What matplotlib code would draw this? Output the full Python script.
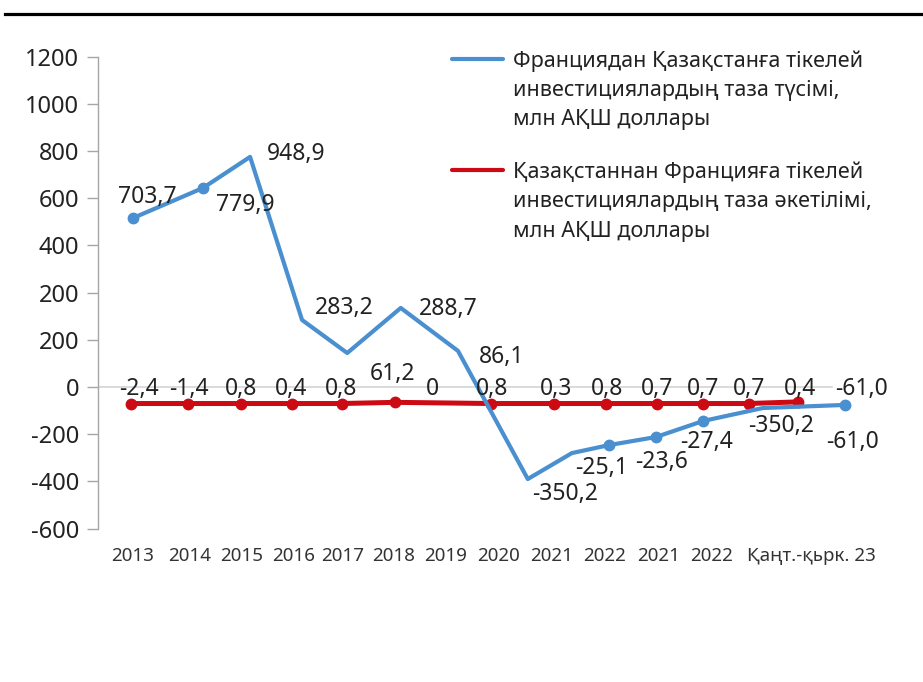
import matplotlib.pyplot as plt
from matplotlib.lines import Line2D
from matplotlib.transforms import offset_copy

plt.rcParams['font.family'] = ['Noto Sans', 'DejaVu Sans']

# categories along the x axis (positions in category units)
x_labels = ['2013', '2014', '2015', '2016', '2017', '2018', '2019', '2020',
            '2021', '2022', '2021', '2022', 'Қаңт.-қьрк. 23']
x_ticks = [0, 1.07, 2.06, 3.05, 4.0, 4.97, 5.96, 6.97, 7.98, 8.99, 10.02, 11.03, 12.93]

# y axis labels as printed (the picture repeats "200")
y_ticks = [-600, -400, -200, 0, 200, 400, 600, 800, 1000, 1200, 1400]
y_tick_labels = ['-600', '-400', '-200', '0', '200', '200', '400', '600', '800', '1000', '1200']

# inflow, France -> Kazakhstan (blue)
inflow_x = [0, 1.33, 2.23, 3.22, 4.08, 5.10, 6.19, 7.52, 8.36, 9.07, 9.96, 10.86, 12.0, 13.56]
inflow_y = [716, 843, 975, 284, 144, 335, 153, -390, -280, -246, -212, -144, -89, -76]
inflow_markers = [0, 1, 9, 10, 11, 13]

# outflow, Kazakhstan -> France (red)
outflow_x = [-0.04, 1.05, 2.06, 3.03, 3.98, 4.99, 6.82, 8.02, 9.01, 9.98, 10.86, 11.73, 12.67]
outflow_y = [-70, -70, -70, -70, -70, -65, -70, -70, -70, -70, -70, -70, -63]

# data labels as printed on the chart
inflow_labels = ['703,7', '779,9', '948,9', '283,2', '288,7', '86,1', '-350,2',
                 '-25,1', '-23,6', '-27,4', '-350,2', '-61,0', '-61,0']
outflow_labels = ['-2,4', '-1,4', '0,8', '0,4', '0,8', '61,2', '0', '0,8',
                  '0,3', '0,8', '0,7', '0,7', '0,7', '0,4']

legend_inflow = ['Франциядан Қазақстанға тікелей',
                 'инвестициялардың таза түсімі,',
                 'млн АҚШ доллары']
legend_outflow = ['Қазақстаннан Францияға тікелей',
                  'инвестициялардың таза әкетілімі,',
                  'млн АҚШ доллары']

# where the labels sit (text centres, data units)
inflow_label_pos = [(0.27, 813), (2.13, 780), (3.10, 996), (4.02, 343), (6.0, 339),
                    (7.03, 136), (8.23, -445), (8.93, -335), (10.06, -309),
                    (10.93, -225), (12.34, -157), (13.71, -225), (13.87, 0)]
outflow_label_pos = [(0.11, 0), (1.07, 0), (2.06, 0), (3.01, 0), (3.96, 0), (4.95, 64),
                     (5.71, 0), (6.84, 0), (8.06, 0), (9.03, 0), (9.98, 0),
                     (10.86, 0), (11.73, 0), (12.70, 0)]

BLUE = '#4a8fcf'
RED = '#cc0a14'
TEXT = '#222222'
W, H = 923, 682

fig = plt.figure(figsize=(W / 100, H / 100), dpi=100, facecolor='white')
ax = fig.add_axes([98 / W, (H - 528.6) / H, 802 / W, (528.6 - 56.6) / H])
ax.set_xlim(-0.667, 14.61)
ax.set_ylim(-600, 1400)
ax.patch.set_alpha(0)

ax.axhline(0, xmin=0, xmax=(832 - 98) / 802, color='#d4d4d4', lw=1.2, zorder=1)

ax.plot(outflow_x, outflow_y, color=RED, lw=3.6, marker='o', ms=7.5,
        solid_capstyle='round', zorder=3, clip_on=False)
ax.plot(inflow_x, inflow_y, color=BLUE, lw=3.0, marker='o', ms=7.5,
        markevery=inflow_markers, solid_capstyle='round', zorder=4, clip_on=False)

lab_tr = offset_copy(ax.transData, fig=fig, y=-5.8, units='points')
for txt, (lx, ly) in zip(inflow_labels + outflow_labels, inflow_label_pos + outflow_label_pos):
    ax.text(lx, ly, txt, transform=lab_tr, ha='center', va='baseline',
            fontsize=16.5, color=TEXT, zorder=5, clip_on=False)

for s in ['top', 'right', 'bottom']:
    ax.spines[s].set_visible(False)
ax.spines['left'].set_color('#a6a6a6')
ax.spines['left'].set_linewidth(1.0)

ax.set_yticks(y_ticks)
ax.set_yticklabels(y_tick_labels, fontsize=17, color=TEXT)
ax.tick_params(axis='y', length=8, width=1.0, color='#a6a6a6', pad=5.5)

ax.set_xticks(x_ticks)
ax.set_xticklabels(x_labels, fontsize=13.5, color='#333333')
ax.tick_params(axis='x', length=0, pad=13.5)

# legend drawn by hand: handle beside the first line of each entry
def px(x, y):
    return x / W, 1 - y / H

for color, lines, y0 in [(BLUE, legend_inflow, 58.7), (RED, legend_outflow, 170)]:
    fig.add_artist(Line2D([px(452, 0)[0], px(503, 0)[0]], [px(0, y0)[1]] * 2,
                          color=color, lw=3.0, solid_capstyle='round'))
    for i, line in enumerate(lines):
        x, y = px(513, y0 + 29.4 * i + 8)
        fig.text(x, y, line, fontsize=15.5, color=TEXT, va='baseline', ha='left')

# heavy rule across the top
fig.add_artist(Line2D([5 / W, 1], [1 - 13.5 / H] * 2, color='black', lw=2.3))

fig.savefig('out.png', dpi=100, facecolor='white')
